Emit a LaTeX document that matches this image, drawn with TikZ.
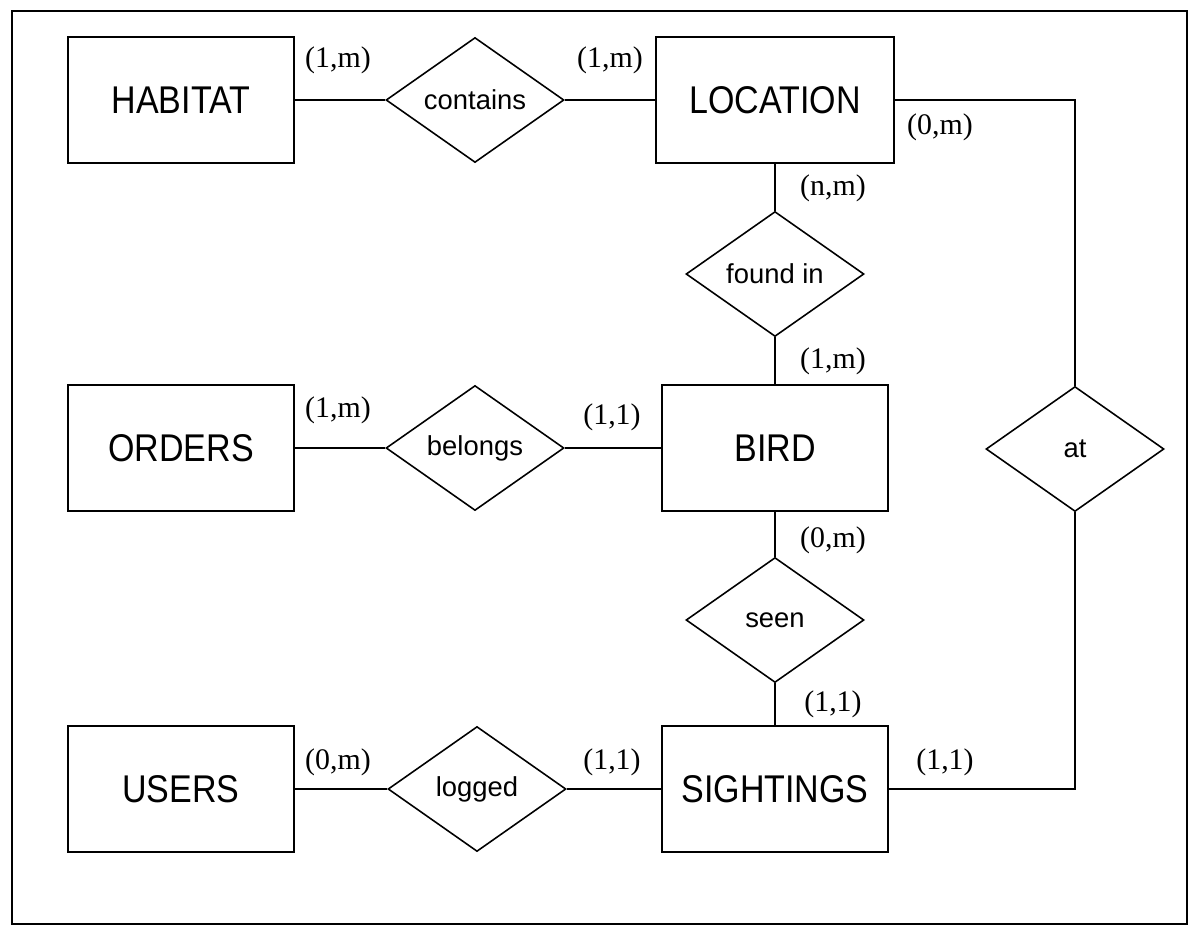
\documentclass[tikz,border=0pt]{standalone}
\usepackage{fontspec}
\setmainfont{Liberation Serif}
\setsansfont{Liberation Sans}
\newfontfamily\entfont[FakeStretch=0.88]{Liberation Sans}
\usetikzlibrary{shapes.geometric}
\tikzset{
  entity/.style={draw, line width=0.9pt, minimum width=4.52cm, minimum height=2.52cm,
    inner sep=0pt, font=\entfont\fontsize{22}{26}\selectfont},
  rel/.style={draw, diamond, line width=0.9pt, minimum width=3.56cm, minimum height=2.5cm,
    inner sep=0pt, aspect=1.42, font=\sffamily\fontsize{15.6}{18}\selectfont},
  card/.style={font=\fontsize{17}{20}\selectfont, inner sep=0pt},
  conn/.style={line width=1.1pt},
  frame/.style={draw, line width=0.9pt}
}
\begin{document}
\begin{tikzpicture}[x=0.02cm, y=-0.02cm]
  \useasboundingbox (0,0) rectangle (1204,948);
  \draw[frame] (12,11) rectangle (1187,924);

  % entities
  \node[entity] (habitat) at (181,100) {HABITAT};
  \node[entity, minimum width=4.76cm] (location) at (775,100) {LOCATION};
  \node[entity] (orders) at (181,448) {ORDERS};
  \node[entity] (bird) at (775,448) {BIRD};
  \node[entity] (users) at (181,789) {USERS};
  \node[entity] (sightings) at (775,789) {SIGHTINGS};

  % relationships
  \node[rel] (contains) at (475,100) {contains};
  \node[rel] (foundin) at (775,274) {found in};
  \node[rel] (belongs) at (475,448) {belongs};
  \node[rel] (seen) at (775,620) {seen};
  \node[rel] (logged) at (477,789) {logged};
  \node[rel] (at) at (1075,449) {at};

  \coordinate (ne) at (1075,100);
  \coordinate (se) at (1075,789);

  \draw[conn] (habitat) -- (contains) -- (location);
  \draw[conn] (location) -- (foundin) -- (bird);
  \draw[conn] (orders) -- (belongs) -- (bird);
  \draw[conn] (bird) -- (seen) -- (sightings);
  \draw[conn] (users) -- (logged) -- (sightings);
  \draw[conn] (location.east) -- (ne) -- (at.north);
  \draw[conn] (at.south) -- (se) -- (sightings.east);

  % cardinalities
  \node[card] at (338,60) {(1,m)};
  \node[card] at (610,60) {(1,m)};
  \node[card] at (940,127) {(0,m)};
  \node[card] at (833,188) {(n,m)};
  \node[card] at (833,361) {(1,m)};
  \node[card] at (338,410) {(1,m)};
  \node[card] at (612,417) {(1,1)};
  \node[card] at (833,540) {(0,m)};
  \node[card] at (833,704) {(1,1)};
  \node[card] at (338,762) {(0,m)};
  \node[card] at (612,762) {(1,1)};
  \node[card] at (945,762) {(1,1)};
\end{tikzpicture}
\end{document}
